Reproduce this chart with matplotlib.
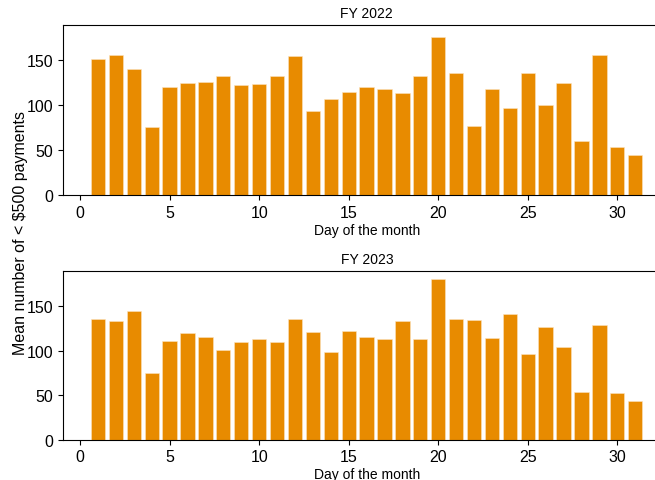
import numpy as np
import matplotlib
matplotlib.use("Agg")
import matplotlib.pyplot as plt

plt.rcParams['font.family'] = ['Liberation Sans', 'DejaVu Sans']

days = list(range(1, 32))
fy2022 = [151, 156, 140, 76, 120, 125, 126, 133, 122, 124, 132, 155, 93, 107, 115,
          120, 118, 114, 133, 176, 136, 77, 118, 97, 136, 100, 125, 60, 156, 54, 45]
fy2023 = [136, 133, 144, 75, 111, 120, 115, 101, 110, 113, 110, 135, 121, 98, 122,
          115, 113, 133, 113, 180, 136, 134, 114, 141, 96, 127, 104, 54, 129, 52, 43]
titles = ['FY 2022', 'FY 2023']
bar_color = '#e88b00'

fig = plt.figure(figsize=(6.55, 4.81), dpi=100)
W, H = 655, 481
left, right = 62.7 / W, 671 / W
ax1 = fig.add_axes([left, 1 - 196 / H, right - left, (196 - 26.3) / H])
ax2 = fig.add_axes([left, 1 - 440.7 / H, right - left, (440.7 - 272.3) / H], sharey=ax1)

for ax, vals, title in zip([ax1, ax2], [fy2022, fy2023], titles):
    ax.bar(days, vals, width=0.8, color=bar_color, edgecolor='#fbe3c0', linewidth=0.4)
    ax.set_title(title, fontsize=10)
    ax.set_xlabel('Day of the month', fontsize=10, labelpad=2)
    ax.set_xlim(-0.97, 33.0)
    ax.set_xticks([0, 5, 10, 15, 20, 25, 30])
    ax.set_yticks([0, 50, 100, 150])
    ax.tick_params(labelsize=11.5)

ax1.set_ylim(0, 189)
fig.text(21 / W, 1 - 233 / H, 'Mean number of < $500 payments', rotation=90,
         ha='center', va='center', fontsize=11.5)

fig.savefig('out.png', dpi=100)
